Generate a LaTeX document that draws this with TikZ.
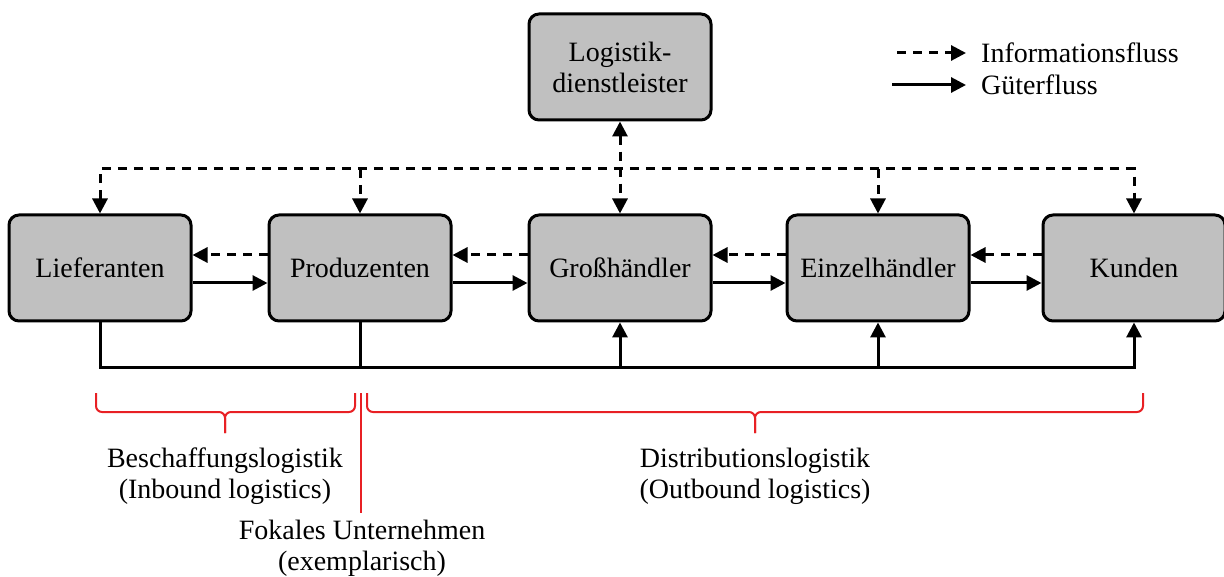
\documentclass[tikz,border=0pt]{standalone}
\usepackage{fontspec}
\setmainfont{Liberation Serif}
\usetikzlibrary{arrows.meta}
\definecolor{boxgray}{RGB}{192,192,192}
\definecolor{bracered}{RGB}{232,32,36}
\begin{document}
\begin{tikzpicture}[x=1pt,y=-1pt,
  >={Triangle[length=15pt,width=15pt]},
  txt/.style={font=\fontsize{28}{31}\selectfont, align=center, inner sep=0pt},
  box/.style={txt, draw, line width=3pt, fill=boxgray, rounded corners=10pt,
              minimum width=182pt, minimum height=106pt},
  flow/.style={line width=3pt},
  info/.style={flow, dash pattern=on 9pt off 7pt},
  bracepath/.style={draw=bracered, line width=2pt, rounded corners=6pt},
  redline/.style={draw=bracered, line width=2pt}]
\useasboundingbox (0,0) rectangle (1224,577);

% boxes
\node[box] (L)  at (100,268)  {Lieferanten};
\node[box] (P)  at (360,268)  {Produzenten};
\node[box] (G)  at (620,268)  {Großhändler};
\node[box] (E)  at (878,268)  {Einzelhändler};
\node[box] (K)  at (1134,268) {Kunden};
\node[box] (LD) at (620,67)   {Logistik-\\dienstleister};

% helper rows
\coordinate (ytop) at (0,169);
\coordinate (yd)   at (0,255);
\coordinate (ys)   at (0,283);
\coordinate (ybot) at (0,368);

% information flow (top)
\draw[info,<->] (L.north) -- (L.north |- ytop) -- (K.north |- ytop) -- (K.north);
\draw[info,->] (P.north |- ytop) -- (P.north);
\draw[info,->] (E.north |- ytop) -- (E.north);
\draw[info,<->] (LD.south) -- (G.north);

% information flow (backwards)
\draw[info,->] (P.west |- yd) -- (L.east |- yd);
\draw[info,->] (G.west |- yd) -- (P.east |- yd);
\draw[info,->] (E.west |- yd) -- (G.east |- yd);
\draw[info,->] (K.west |- yd) -- (E.east |- yd);

% goods flow
\draw[flow,->] (L.east |- ys) -- (P.west |- ys);
\draw[flow,->] (P.east |- ys) -- (G.west |- ys);
\draw[flow,->] (G.east |- ys) -- (E.west |- ys);
\draw[flow,->] (E.east |- ys) -- (K.west |- ys);

% goods flow (bottom)
\draw[flow,->] (L.south) -- (L.south |- ybot) -- (K.south |- ybot) -- (K.south);
\draw[flow] (P.south) -- (P.south |- ybot);
\draw[flow,->] (G.south |- ybot) -- (G.south);
\draw[flow,->] (E.south |- ybot) -- (E.south);

% legend
\coordinate (li1) at (897,53);
\coordinate (li2) at (966,53);
\coordinate (lg1) at (892,85);
\coordinate (lg2) at (966,85);
\draw[info,->] (li1) -- (li2);
\draw[flow,->] (lg1) -- (lg2);
\node[txt, anchor=west] (legI) at (981,53) {Informationsfluss};
\node[txt, anchor=west] (legG) at (981,85) {Güterfluss};

% braces
\draw[bracepath] (96,393) -- (96,412) -- (225,412) -- (225,433);
\draw[bracepath] (355,393) -- (355,412) -- (225,412) -- (225,433);
\draw[bracepath] (367,393) -- (367,412) -- (755,412) -- (755,433);
\draw[bracepath] (1143,393) -- (1143,412) -- (755,412) -- (755,433);
\coordinate (f1) at (361,393);
\coordinate (f2) at (361,513);
\draw[redline] (f1) -- (f2);

% labels
\node[txt] (inb) at (225,476) {Beschaffungslogistik\\(Inbound logistics)};
\node[txt] (outb) at (755,476) {Distributionslogistik\\(Outbound logistics)};
\node[txt] (fok) at (362,548) {Fokales Unternehmen\\(exemplarisch)};
\end{tikzpicture}
\end{document}
